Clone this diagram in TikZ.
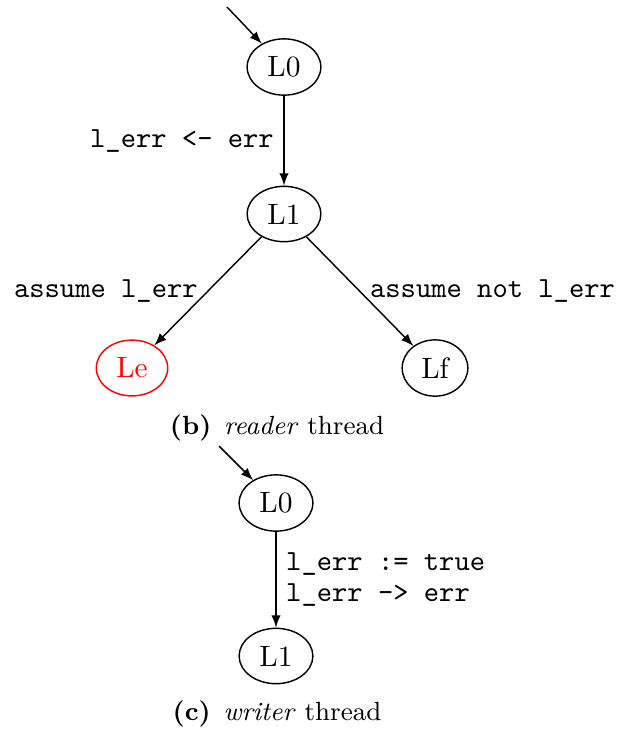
\documentclass[tikz,border=0pt]{standalone}
\usetikzlibrary{shapes.geometric}
\begin{document}
\begin{tikzpicture}[x=0.35pt, y=-0.35pt,
  state/.style={draw, ellipse, inner sep=0.3333em, line width=0.5pt,
    font=\fontsize{10.3}{12}\selectfont},
  trans/.style={-latex, line width=0.5pt},
  lbl/.style={font=\ttfamily\fontsize{10.2}{11}\selectfont},
  caption/.style={inner sep=0pt, font=\fontsize{9.2}{11}\selectfont}]
  \useasboundingbox (0,0) rectangle (630,731);

  % reader thread
  \node[state] (rL0) at (284,67) {L0};
  \node[state] (rL1) at (284,214) {L1};
  \node[state, draw=red, text=red] (rLe) at (132,368) {Le};
  \node[state] (rLf) at (435,368) {Lf};
  \coordinate (rin) at (227,7);

  \draw[trans] (rin) -- (rL0);
  \draw[trans] (rL0) -- node[left, lbl] (ra) {l\_err <- err} (rL1);
  \draw[trans] (rL1) -- node[left, lbl] (rb) {assume l\_err} (rLe);
  \draw[trans] (rL1) -- node[right, lbl] (rc) {assume not l\_err} (rLf);

  \node[caption] (rcap) at (277,428) {\textbf{(b)}\hspace{4.5pt}\emph{reader} thread};

  % writer thread
  \node[state] (wL0) at (276,503) {L0};
  \node[state] (wL1) at (276,656) {L1};
  \coordinate (win) at (219,446);

  \draw[trans] (win) -- (wL0);
  \draw[trans] (wL0) -- node[right, lbl, align=left] (wa) {l\_err := true\\l\_err -> err} (wL1);

  \node[caption] (wcap) at (277,714) {\textbf{(c)}\hspace{4.5pt}\emph{writer} thread};
\end{tikzpicture}
\end{document}
